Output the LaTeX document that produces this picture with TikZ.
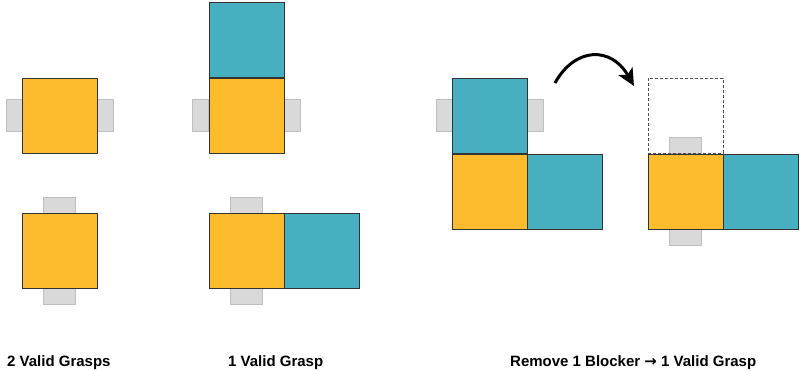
\documentclass[tikz,border=0pt]{standalone}
\usepackage{fontspec}
\setmainfont{Liberation Sans}
\newfontfamily\arrowfont{DejaVu Sans}
\usetikzlibrary{arrows.meta}

\definecolor{blockyellow}{HTML}{FDBB2E}
\definecolor{blockteal}{HTML}{47AFBF}
\definecolor{gripgray}{HTML}{D9D9D9}
\definecolor{gripedge}{HTML}{BFBFBF}
\definecolor{edgedark}{HTML}{333333}

\tikzset{
  block/.style={draw=edgedark, line width=0.9pt, minimum width=75pt, minimum height=75pt, inner sep=0pt, outer sep=0pt},
  target/.style={block, fill=blockyellow},
  blocker/.style={block, fill=blockteal},
  removed/.style={draw=black!70, line width=0.8pt, dash pattern=on 3pt off 2pt, minimum width=75pt, minimum height=75pt, inner sep=0pt},
  gripside/.style={fill=gripgray, draw=gripedge, line width=0.5pt, minimum width=16pt, minimum height=32pt, inner sep=0pt},
  gripend/.style={fill=gripgray, draw=gripedge, line width=0.5pt, minimum width=32pt, minimum height=16pt, inner sep=0pt},
  caption/.style={anchor=base west, inner sep=0pt, font=\fontsize{15pt}{17pt}\selectfont\bfseries},
  movearrow/.style={line width=3pt, -{Stealth[length=17pt,width=16pt,inset=4pt]}}
}

\begin{document}
\begin{tikzpicture}[x=1pt, y=-1pt]
  \useasboundingbox (0,0) rectangle (801,371);

  % single free block: grips on left and right
  \node[gripside] (g1l) at (14,115) {};
  \node[gripside] (g1r) at (105,115) {};
  \node[target] (t1) at (59.5,115.5) {};

  % single free block: grips on top and bottom
  \node[gripend] (g2t) at (59.5,205) {};
  \node[gripend] (g2b) at (59.5,296) {};
  \node[target] (t2) at (59.5,250.5) {};

  % blocked from above: side grips remain
  \node[gripside] (g3l) at (200.5,115) {};
  \node[gripside] (g3r) at (292,115) {};
  \node[blocker] (b3) at (246.5,40) {};
  \node[target] (t3) at (246.5,115.5) {};

  % blocked from the right: top/bottom grips remain
  \node[gripend] (g4t) at (246.5,205) {};
  \node[gripend] (g4b) at (246.5,296) {};
  \node[target] (t4) at (246.5,250.5) {};
  \node[blocker] (b4) at (321.5,250.5) {};

  % blocked on two sides, before removal
  \node[gripside] (g5l) at (444,115) {};
  \node[gripside] (g5r) at (535,115) {};
  \node[blocker] (b5a) at (489.5,116) {};
  \node[target] (t5) at (489.5,191.5) {};
  \node[blocker] (b5b) at (564.5,191.5) {};

  % after removing the top blocker
  \node[gripend] (g6t) at (685.5,145.5) {};
  \node[gripend] (g6b) at (685.5,237) {};
  \node[removed] (r6) at (685.5,116) {};
  \node[target] (t6) at (685.5,191.5) {};
  \node[blocker] (b6) at (760.5,191.5) {};

  % removal arrow
  \coordinate (arrS) at (555,83);
  \coordinate (arrE) at (634,86);
  \draw[movearrow] (arrS) .. controls (575,47) and (611,46) .. (arrE);

  % captions
  \node[caption] (c1) at (7,367) {2 Valid Grasps};
  \node[caption] (c2) at (228,367) {1 Valid Grasp};
  \node[caption] (c3) at (510,367) {Remove 1 Blocker {\arrowfont\bfseries →} 1 Valid Grasp};
\end{tikzpicture}
\end{document}
